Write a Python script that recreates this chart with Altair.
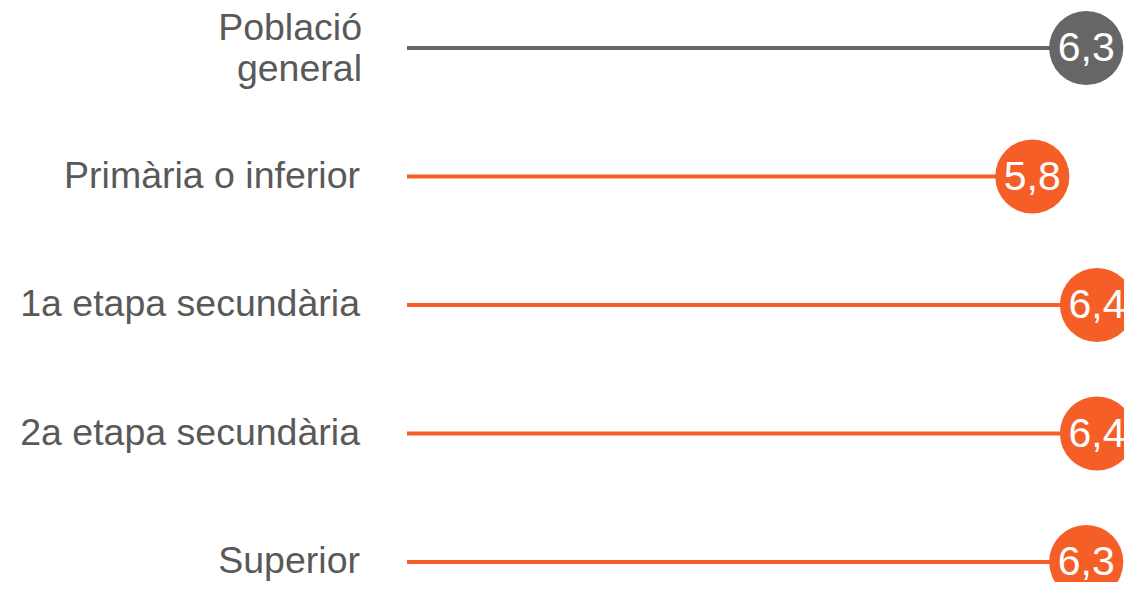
import altair as alt
import pandas as pd

categories = ["Població\ngeneral", "Primària o inferior", "1a etapa secundària", "2a etapa secundària", "Superior"]
values = [6.3, 5.8, 6.4, 6.4, 6.3]
value_labels = ["6,3", "5,8", "6,4", "6,4", "6,3"]
groups = ["general", "edu", "edu", "edu", "edu"]

df = pd.DataFrame({
    "cat": categories,
    "value": values,
    "label": value_labels,
    "group": groups,
    "zero": [0] * len(values),
})

FONT = "Liberation Sans"
color = alt.Color("group:N", scale=alt.Scale(domain=["general", "edu"], range=["#666666", "#F55E26"]), legend=None)
x = alt.X("value:Q", scale=alt.Scale(domain=[0, 6.4], nice=False, zero=True), axis=None)
y = alt.Y("cat:N", sort=categories, scale=alt.Scale(type="point", padding=0), axis=None)

base = alt.Chart(df)

rules = base.mark_rule(strokeWidth=4).encode(
    x=alt.X("zero:Q", scale=alt.Scale(domain=[0, 6.4], nice=False), axis=None),
    x2="value:Q",
    y=y,
    color=color,
)

dots = base.mark_circle(size=5500, opacity=1).encode(x=x, y=y, color=color)

vals = base.mark_text(font=FONT, fontSize=41, color="white", align="center", baseline="middle", dy=1).encode(
    x=x, y=y, text="label:N"
)

cats_single = base.transform_filter(alt.datum.group == "edu").mark_text(
    font=FONT, fontSize=37.5, color="#595959", align="right", baseline="middle"
).encode(x=alt.value(-47), y=y, text="cat:N")

cats_multi = base.transform_filter(alt.datum.group == "general").mark_text(
    font=FONT, fontSize=37.5, color="#595959", align="right", baseline="middle",
    lineBreak="\n", lineHeight=41, dy=-19
).encode(x=alt.value(-45), y=y, text="cat:N")

chart = alt.layer(rules, dots, vals, cats_single, cats_multi).properties(
    width=690,
    height=514,
    autosize=alt.AutoSizeParams(type="none"),
    padding={"left": 399, "top": 40, "right": 27, "bottom": 20},
).configure_view(stroke=None)

chart.save("out.html", embed_options={"renderer": "svg", "actions": False})
